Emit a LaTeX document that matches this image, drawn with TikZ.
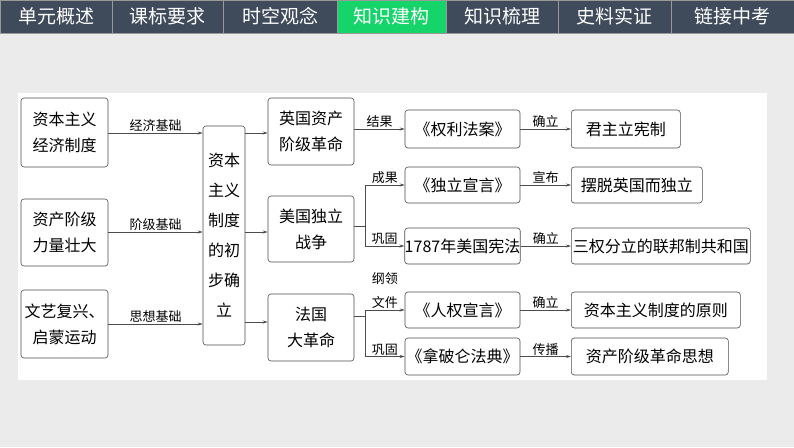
\documentclass[tikz,border=0pt]{standalone}
\usepackage{fontspec}
\setmainfont{Noto Sans CJK SC}
\usetikzlibrary{arrows.meta}
\definecolor{tabc}{HTML}{3F4B5B}
\definecolor{tabg}{HTML}{14D46A}
\begin{document}
\begin{tikzpicture}[x=1pt,y=-1pt,
 bx/.style={draw=black!70,rounded corners=3pt,fill=white,inner sep=0pt,align=center,font=\fontsize{16}{26}\selectfont,line width=0.6pt},
 ar/.style={-{Stealth[length=5pt,width=3pt]},draw=black!70,line width=0.6pt},
 ln/.style={draw=black!70,line width=0.6pt},
 lb/.style={font=\fontsize{13}{16}\selectfont,inner sep=1pt},
 tab/.style={fill=tabc,draw=black!40,text=white,font=\fontsize{14}{16}\selectfont,anchor=center}]
\useasboundingbox (0,0) rectangle (794,447);
\fill[black!8] (0,0) rectangle (794,447);
\fill[white] (18,93) rectangle (767,380);
% tabs
\foreach \a/\b/\t [count=\i] in {0/112/单元概述,112/223/课标要求,223/337/时空观念,337/446/知识建构,446/558/知识梳理,558/671/史料实证,671/794/链接中考}{
  \ifnum\i=4 \def\fc{tabg}\else\def\fc{tabc}\fi
  \path[fill=\fc,draw=black!40] (\a,0) rectangle (\b,33);
  \node[text=white,font=\fontsize{19}{20}\selectfont] (t\i) at ({(\a+\b)/2},16) {\t};
}
% boxes
\node[bx,minimum width=87,minimum height=69] (a1) at (64.5,132.5) {资本主义\\经济制度};
\node[bx,minimum width=87,minimum height=67] (a2) at (64.5,232.5) {资产阶级\\力量壮大};
\node[bx,minimum width=87,minimum height=68] (a3) at (64.5,324) {文艺复兴、\\启蒙运动};
\node[bx,minimum width=42,minimum height=219,font=\fontsize{16}{30}\selectfont] (c) at (224,235.5) {资本\\主义\\制度\\的初\\步确\\立};
\node[bx,minimum width=86,minimum height=67] (m1) at (311,131.5) {英国资产\\阶级革命};
\node[bx,minimum width=86,minimum height=66] (m2) at (311,229) {美国独立\\战争};
\node[bx,minimum width=86,minimum height=67] (m3) at (311,327.5) {法国\\大革命};
\node[bx,minimum width=115,minimum height=38] (b1) at (462.5,129) {《权利法案》};
\node[bx,minimum width=115,minimum height=36] (b2) at (462.5,185) {《独立宣言》};
\node[bx,minimum width=115,minimum height=36] (b3) at (462.5,246) {1787年美国宪法};
\node[bx,minimum width=115,minimum height=36] (b4) at (462.5,310) {《人权宣言》};
\node[bx,minimum width=115,minimum height=37] (b5) at (462.5,356.5) {《拿破仑法典》};
\node[bx,minimum width=109,minimum height=38,anchor=west] (r1) at (571,129) {君主立宪制};
\node[bx,minimum width=131,minimum height=36,anchor=west] (r2) at (571,185) {摆脱英国而独立};
\node[bx,minimum width=179,minimum height=36,anchor=west] (r3) at (571,246) {三权分立的联邦制共和国};
\node[bx,minimum width=169,minimum height=36,anchor=west] (r4) at (571,310) {资本主义制度的原则};
\node[bx,minimum width=157,minimum height=37,anchor=west] (r5) at (571,356.5) {资产阶级革命思想};
% arrows left
\draw[ar] (a1.east|-0,133) -- node[lb,above]{经济基础} (c.west|-0,133);
\draw[ar] (a2.east|-0,232) -- node[lb,above]{阶级基础} (c.west|-0,232);
\draw[ar] (a3.east|-0,324) -- node[lb,above]{思想基础} (c.west|-0,324);
\draw[ar] (c.east|-0,133) -- (m1.west|-0,133);
\draw[ar] (c.east|-0,232) -- (m2.west|-0,232);
\draw[ar] (c.east|-0,322) -- (m3.west|-0,322);
\draw[ar] (m1.east|-0,129) -- node[lb,above]{结果} (b1.west);
\coordinate (f1) at (365,226);
\coordinate (f2) at (365,316);
\draw[ln] (m2.east|-f1) -- (f1);
\draw[ar] (f1) |- node[lb,above,pos=0.75]{成果} (b2.west);
\draw[ar] (f1) |- node[lb,above,pos=0.75]{巩固} (b3.west);
\draw[ln] (m3.east|-f2) -- (f2);
\draw[ar] (f2) |- node[lb,above,pos=0.75,align=center,font=\fontsize{13}{24}\selectfont]{纲领\\文件} (b4.west);
\draw[ar] (f2) |- node[lb,above,pos=0.75]{巩固} (b5.west);
\draw[ar] (b1) -- node[lb,above]{确立} (r1);
\draw[ar] (b2) -- node[lb,above]{宣布} (r2);
\draw[ar] (b3) -- node[lb,above]{确立} (r3);
\draw[ar] (b4) -- node[lb,above]{确立} (r4);
\draw[ar] (b5) -- node[lb,above]{传播} (r5);
\end{tikzpicture}
\end{document}
